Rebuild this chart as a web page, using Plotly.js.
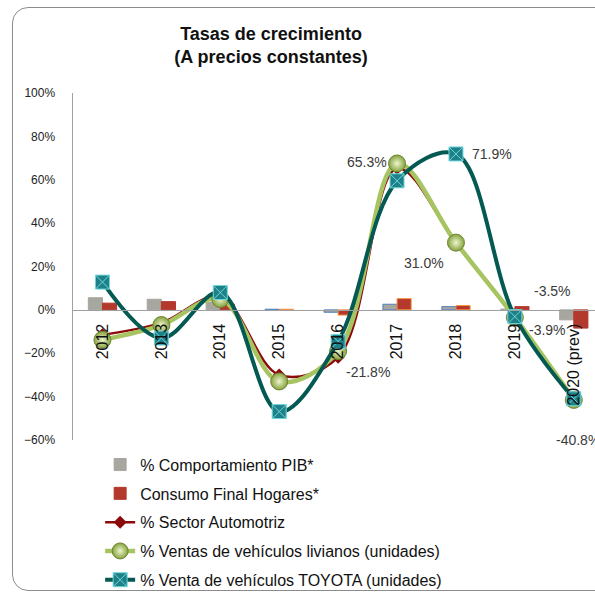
<!DOCTYPE html>
<html>
<head>
<meta charset="utf-8">
<script src="https://cdn.plot.ly/plotly-3.0.1.min.js"></script>
<style>
  html, body { margin: 0; padding: 0; width: 595px; height: 595px; overflow: hidden; background: #fff; }
  #frame { position: absolute; left: 12px; top: 7px; width: 620px; height: 584px;
           border: 1.5px solid #8c8c8c; border-radius: 16px; box-sizing: border-box; }
  #chart { position: absolute; left: 0; top: 0; width: 595px; height: 595px; }
</style>
</head>
<body>
<div id="frame"></div>
<div id="chart"></div>
<script>
// Growth rates, constant prices
const YEARS = ["2012", "2013", "2014", "2015", "2016", "2017", "2018", "2019", "2020 (prev)"];

const PIB       = [5.6, 4.9, 3.5, 0.3, -1.1, 2.6, 1.5, 0.4, -4.6];
const CONSUMO   = [3.1, 3.8, 2.6, 0.3, -2.4, 5.2, 2.0, 1.5, -8.4];
const AUTOMOTRIZ = [-11.5, -6.0, 6.0, -30.0, -21.8, 65.3, 31.0, -3.9, -40.8];
const LIVIANOS   = [-13.8, -7.0, 5.0, -33.0, -19.0, 67.5, 31.0, -3.5, -41.5];
const TOYOTA     = [12.8, -13.0, 8.0, -46.9, -14.6, 59.5, 71.9, -3.1, -41.0];

const COLORS = {
  pib:      "#a7a69f",
  consumo:  "#b3392d",
  auto:     "#8b0a0a",
  livianos: "#a6c45f",
  toyota:   "#045a52",
  toyotaFill: "#1f8188",
  axis:     "#a0a0a0",
  label:    "#3a3a3a",
};

const FONT = "Liberation Sans, Arial, sans-serif";

// a few bars have blue/orange outlines in the original
const pibEdge = PIB.map((v, i) => (i >= 3 && i <= 6) ? "#4f81bd" : COLORS.pib);
const consumoEdge = CONSUMO.map((v, i) => (i >= 3 && i <= 6) ? "#f79646" : COLORS.consumo);

const traces = [
  {
    type: "bar", name: "% Comportamiento PIB*", x: YEARS, y: PIB,
    marker: { color: COLORS.pib, line: { color: pibEdge, width: 1 } },
    legendgroup: "a",
  },
  {
    type: "bar", name: "Consumo Final Hogares*", x: YEARS, y: CONSUMO,
    marker: { color: COLORS.consumo, line: { color: consumoEdge, width: 1 } },
    legendgroup: "b",
  },
  {
    type: "scatter", mode: "lines+markers", name: "% Sector Automotriz", x: YEARS, y: AUTOMOTRIZ,
    line: { color: COLORS.auto, width: 2.5, shape: "spline", smoothing: 1 },
    marker: { symbol: "diamond", size: 10, color: COLORS.auto },
    legendgroup: "c",
  },
  {
    type: "scatter", mode: "lines+markers", name: "% Ventas de vehículos livianos (unidades)", x: YEARS, y: LIVIANOS,
    line: { color: COLORS.livianos, width: 4.5, shape: "spline", smoothing: 1 },
    marker: { symbol: "circle", size: 17, color: "#86a23e",
              gradient: { type: "radial", color: "#eef6cf" },
              line: { color: "#6d8530", width: 1 } },
    legendgroup: "d",
  },
  {
    type: "scatter", mode: "lines+markers", name: "% Venta de vehículos TOYOTA (unidades)", x: YEARS, y: TOYOTA,
    line: { color: COLORS.toyota, width: 4, shape: "spline", smoothing: 1 },
    marker: { symbol: "square-x", size: 14, color: COLORS.toyotaFill,
              line: { color: "#6fd6dc", width: 1 } },
    legendgroup: "e",
  },
];

// data labels: [text, category index, value, xanchor, xshift, yshift]
const LABELS = [
  ["65.3%", 5, 65.3, "right", -8, 6],
  ["71.9%", 6, 71.9, "left", 14, 0],
  ["31.0%", 6, 31.0, "right", -10, -20],
  ["-21.8%", 4, -21.8, "left", 6, -15],
  ["-3.5%", 7, -3.5, "left", 17, 26],
  ["-3.9%", 7, -3.9, "left", 12, -12],
  ["-40.8%", 8, -40.8, "center", 4, -42],
];

const annotations = LABELS.map(l => ({
  x: l[1], y: l[2], text: l[0], showarrow: false,
  xanchor: l[3], yanchor: "middle", xshift: l[4], yshift: l[5],
  font: { family: FONT, size: 14, color: COLORS.label },
}));

const layout = {
  width: 595, height: 595,
  paper_bgcolor: "rgba(0,0,0,0)",
  plot_bgcolor: "rgba(0,0,0,0)",
  margin: { t: 93, b: 155, l: 73, r: 0, pad: 0, autoexpand: false },
  font: { family: FONT, color: "#111" },
  title: {
    text: "<b>Tasas de crecimiento<br>(A precios constantes)</b>",
    x: 271 / 595, xref: "container", xanchor: "center",
    y: 1 - 40 / 595, yref: "container", yanchor: "top",
    font: { family: FONT, size: 18, color: "#111" },
  },
  barmode: "group",
  bargap: 0.52,
  bargroupgap: 0,
  xaxis: {
    type: "category",
    range: [-0.5, 8.36],
    anchor: "free", position: 0.375,
    showline: true, linecolor: COLORS.axis, linewidth: 1.5,
    showgrid: false, zeroline: false,
    ticks: "", tickangle: -90, ticklabelstandoff: 6,
    tickfont: { family: FONT, size: 16, color: "#111" },
  },
  yaxis: {
    range: [-60, 100], dtick: 20, ticksuffix: "%",
    showline: true, linecolor: COLORS.axis, linewidth: 1.5,
    showgrid: false, zeroline: false,
    ticks: "", ticklabelstandoff: 14,
    tickfont: { family: FONT, size: 12, color: "#222" },
  },
  showlegend: true,
  legend: {
    orientation: "v", traceorder: "grouped", tracegroupgap: 5,
    x: 0.052, xanchor: "left", y: -0.022, yanchor: "top",
    bgcolor: "rgba(0,0,0,0)",
    font: { family: FONT, size: 16, color: "#111" },
  },
  annotations,
};

Plotly.newPlot("chart", traces, layout, { staticPlot: true, displayModeBar: false });
</script>
</body>
</html>
